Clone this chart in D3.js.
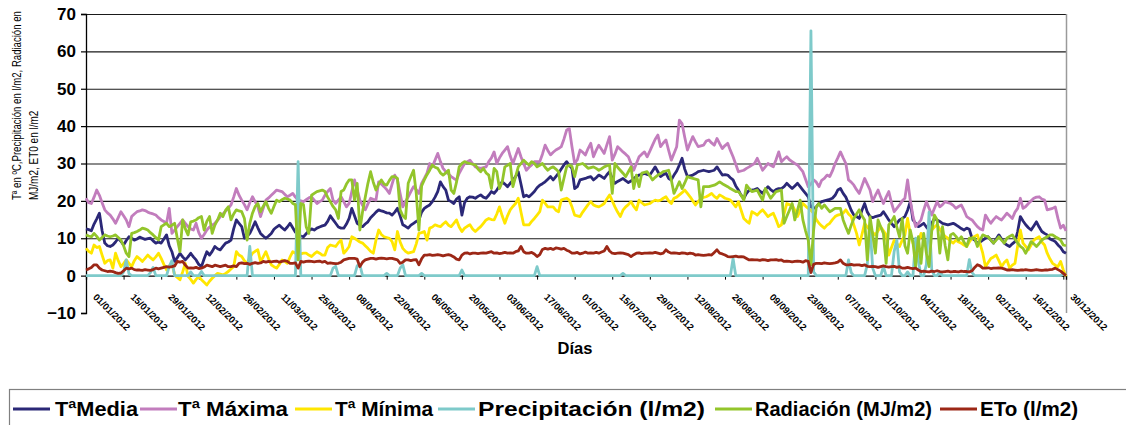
<!DOCTYPE html>
<html><head><meta charset="utf-8">
<script src="https://cdn.jsdelivr.net/npm/d3@7"></script>
<style>
body{margin:0;background:#fff;}
svg{display:block;font-family:"Liberation Sans",Arial,sans-serif;}
</style>
</head><body>
<svg id="chart" width="1126" height="425"></svg>
<script>
// ---------------- DATA ----------------
const startDate = "01/01/2012";
const endDate = "31/12/2012";

const tickLabels = ["01/01/2012","15/01/2012","29/01/2012","12/02/2012","26/02/2012","11/03/2012","25/03/2012","08/04/2012","22/04/2012","06/05/2012","20/05/2012","03/06/2012","17/06/2012","01/07/2012","15/07/2012","29/07/2012","12/08/2012","26/08/2012","09/09/2012","23/09/2012","07/10/2012","21/10/2012","04/11/2012","18/11/2012","02/12/2012","16/12/2012","30/12/2012"];

const yTicks = [-10, 0, 10, 20, 30, 40, 50, 60, 70];

const seriesNames = ["TªMedia", "Tª Máxima", "Tª Mínima", "Precipitación (l/m2)", "Radiación (MJ/m2)", "ETo (l/m2)"];

const tMedia = [
12.5,12.3,12.0,13.8,15.2,16.7,12.0,8.7,8.0,7.8,
8.2,9.0,10.0,9.2,8.2,9.4,10.4,10.0,9.5,9.8,
10.3,10.0,9.7,9.9,10.0,9.3,8.7,9.0,8.7,9.8,
10.9,8.0,6.4,3.8,4.8,6.0,5.0,4.2,5.0,6.0,
5.0,4.2,3.0,2.4,4.5,6.4,5.5,6.5,7.8,7.2,
6.9,7.8,8.7,9.0,9.5,12.5,14.9,14.0,13.1,10.0,
10.5,11.3,12.8,14.4,12.8,11.3,10.6,10.0,10.6,11.3,
12.4,13.0,13.5,12.8,12.2,13.0,14.0,12.8,11.6,11.0,
10.6,10.4,11.2,12.0,12.5,12.2,12.7,13.0,13.3,13.5,
14.5,16.0,15.0,14.0,13.0,12.7,12.7,13.8,15.3,18.0,
16.0,14.0,13.5,13.1,13.8,14.4,15.5,16.2,17.0,17.6,
17.3,17.1,16.8,16.7,16.2,17.0,18.0,16.0,13.6,13.2,
12.7,13.5,14.0,14.5,14.9,17.0,18.0,18.5,18.9,19.8,
21.0,22.5,25.1,23.8,22.9,20.2,19.8,19.3,20.5,21.1,
16.2,19.5,20.7,21.1,21.0,20.7,21.2,21.6,21.0,20.7,
21.5,22.5,22.0,22.9,24.0,25.1,24.5,23.8,24.7,25.5,
26.5,27.8,24.5,21.1,21.5,21.1,21.8,22.5,23.5,24.2,
24.6,25.1,25.8,26.5,25.6,26.5,27.4,28.5,29.6,30.5,
29.5,28.7,23.3,23.8,25.6,25.8,26.0,26.3,26.5,25.6,
26.2,26.9,26.5,26.0,27.0,27.8,26.0,24.7,25.2,25.6,
26.0,25.4,24.9,25.3,26.0,26.5,26.9,27.1,27.4,27.1,
26.9,28.0,29.1,27.8,26.5,27.0,27.4,26.0,25.6,26.9,
28.0,29.6,31.4,28.5,26.5,26.7,26.9,27.3,27.8,28.0,
28.2,28.0,27.8,28.0,28.2,29.1,28.0,26.9,27.0,26.9,
26.2,25.6,24.0,22.9,21.5,20.7,22.0,22.9,22.9,23.0,
23.3,22.6,22.0,23.0,23.8,23.0,22.5,23.0,23.3,23.3,
23.8,24.7,24.0,23.3,24.0,24.7,23.8,22.9,22.0,21.1,
18.4,18.0,18.4,19.3,19.8,20.0,20.2,20.4,20.7,21.5,
22.9,23.3,22.0,21.0,19.3,17.5,16.2,15.8,15.3,17.5,
19.3,17.0,15.8,15.5,15.8,16.0,16.2,17.1,16.0,14.9,
14.0,13.1,14.0,14.9,15.3,15.8,17.5,19.8,14.9,14.0,
13.1,13.5,14.0,13.0,12.2,14.0,15.3,14.9,14.5,14.0,
13.8,13.6,13.8,14.0,13.6,13.1,12.6,12.2,12.7,12.4,
10.0,9.5,8.7,9.0,9.5,10.0,10.4,9.5,8.7,9.8,
10.9,9.8,8.7,8.2,7.8,8.5,9.1,11.8,15.8,14.6,
13.6,12.8,12.2,13.3,14.4,13.0,11.8,11.3,10.9,9.8,
9.5,9.1,8.2,7.5,6.4,6.0];

const tMaxima = [
20.7,19.5,19.3,21.0,22.9,21.5,19.5,17.6,16.8,16.2,
15.2,14.0,15.5,17.1,16.0,14.9,13.1,15.8,16.5,17.1,
17.3,17.6,17.4,17.0,16.7,16.5,16.2,15.5,14.9,14.5,
14.0,18.0,11.3,12.2,13.1,14.0,14.9,14.0,13.1,12.5,
12.2,14.0,11.5,10.0,11.0,12.2,13.0,13.5,14.0,14.8,
15.8,16.5,17.3,18.0,18.9,21.0,23.3,21.5,20.2,19.0,
17.6,19.5,21.1,19.8,18.4,15.8,18.0,20.2,20.8,21.5,
22.2,22.9,22.7,22.5,21.8,21.1,21.5,22.0,21.0,20.2,
20.0,19.8,20.3,20.8,21.1,20.2,19.3,19.8,20.2,21.5,
22.5,23.3,20.2,19.3,20.2,21.1,19.8,18.4,19.3,22.5,
25.6,23.0,20.2,18.8,17.6,19.2,20.7,20.4,20.2,25.1,
24.5,23.8,23.0,22.0,24.5,26.9,25.6,22.0,18.4,19.8,
21.1,22.5,23.8,23.0,22.0,24.7,26.0,27.4,30.0,29.1,
30.9,32.7,30.5,28.7,27.8,27.2,26.5,26.0,25.6,27.4,
28.7,30.0,30.5,30.9,30.0,29.1,28.9,28.7,28.9,29.1,
30.5,31.5,33.1,30.0,31.5,32.7,33.6,34.5,32.0,30.0,
32.0,34.0,31.8,30.0,28.2,29.0,29.6,30.5,30.5,30.5,
32.5,34.9,33.5,32.3,33.0,33.6,34.0,34.5,36.5,38.9,
39.4,34.5,30.0,31.0,33.6,33.0,32.3,34.0,35.4,31.8,
33.5,34.9,33.8,32.7,35.0,37.2,30.9,32.5,34.5,33.8,
33.1,32.5,31.8,30.0,28.2,30.0,31.8,32.5,33.1,31.8,
33.3,34.9,36.5,37.6,34.5,35.5,36.3,33.5,30.9,32.7,
34.5,41.6,40.7,37.0,33.6,35.5,37.2,35.8,34.5,34.7,
34.9,36.0,36.3,35.5,34.9,36.7,35.3,34.0,34.8,35.4,
33.5,31.8,29.8,27.8,28.0,28.2,28.7,29.1,29.6,30.0,
31.4,29.8,28.2,29.1,30.0,29.5,29.1,31.0,33.1,30.5,
31.2,31.8,31.0,30.5,30.0,29.6,28.7,27.8,25.8,23.8,
24.5,25.6,25.0,23.8,25.5,26.0,26.9,26.5,28.0,30.0,
31.5,33.1,31.5,30.0,25.6,25.0,24.2,23.0,22.0,24.0,
26.0,24.5,22.9,19.8,21.5,22.9,21.0,19.3,21.0,22.5,
19.5,17.1,18.0,18.9,20.0,20.7,25.6,20.2,16.0,13.1,
14.0,14.9,17.5,19.8,18.0,16.2,18.0,19.8,18.4,19.0,
19.8,19.5,19.3,18.8,18.0,18.5,18.9,17.5,15.8,15.3,
14.9,14.0,13.1,12.5,12.2,16.2,15.0,14.0,15.0,15.8,
15.3,14.9,15.8,16.7,16.0,15.3,17.0,18.0,20.7,18.0,
18.5,19.3,20.0,20.7,21.0,21.1,20.5,20.2,17.6,17.8,
18.0,18.4,15.3,12.7,13.5,12.0];

const tMinima = [
7.3,6.5,6.0,8.2,7.5,7.8,5.5,3.3,4.0,4.2,
2.0,6.0,4.0,2.4,3.2,4.2,3.3,2.4,4.0,5.1,
4.5,3.8,4.6,5.5,4.8,4.2,5.0,6.0,4.6,3.0,
1.5,2.5,3.3,0.2,-0.5,-1.1,1.0,3.3,-0.2,-1.0,
-2.0,-1.0,-0.2,-1.1,-1.8,-2.5,-1.5,-0.7,0.0,0.6,
0.4,0.2,0.6,1.1,1.8,2.4,6.4,5.5,5.1,4.0,
3.3,4.8,6.0,6.5,6.9,3.8,5.0,6.4,4.5,2.9,
2.4,2.0,3.0,4.2,3.8,3.3,5.0,6.4,6.0,5.5,
5.8,6.0,6.0,5.5,5.1,5.8,6.4,6.0,5.5,5.5,
7.5,8.2,8.0,7.8,8.8,9.5,6.0,6.8,7.8,10.4,
10.0,9.5,9.0,8.7,8.0,7.3,6.5,6.0,9.5,12.2,
11.0,10.4,10.2,10.0,9.1,6.9,11.8,9.0,7.3,6.5,
6.0,6.2,6.4,8.5,11.3,11.5,11.8,9.5,12.7,13.0,
13.6,13.3,13.1,13.8,14.4,13.5,13.1,14.0,14.9,13.0,
11.8,12.7,13.2,13.6,12.5,11.8,12.5,13.1,14.0,14.9,
15.3,15.0,14.9,16.5,18.4,16.0,14.0,16.0,17.6,18.5,
19.3,20.7,17.0,13.6,13.6,13.6,14.5,15.3,16.2,17.1,
20.2,19.3,18.4,18.4,18.4,17.5,17.1,20.2,20.5,20.7,
20.2,18.4,16.2,16.0,15.8,17.0,18.0,19.0,19.8,18.9,
18.6,18.4,18.8,19.3,20.5,21.6,20.0,18.4,17.0,15.8,
17.5,18.4,19.0,19.8,18.5,17.6,20.2,19.5,18.9,19.1,
19.3,19.8,20.2,20.0,20.2,20.7,21.1,20.0,19.3,20.7,
21.0,21.6,22.2,22.9,22.0,21.1,20.0,18.9,19.8,20.7,
20.9,21.1,21.5,22.0,21.2,20.7,21.6,21.2,20.7,20.5,
20.2,19.3,18.4,19.8,17.5,15.3,14.6,14.0,17.1,16.7,
16.2,17.0,17.6,16.7,15.8,16.3,16.7,15.0,13.1,13.6,
16.5,19.3,19.0,18.9,17.5,15.8,17.5,19.3,18.6,18.0,
17.5,16.7,15.0,14.0,13.3,12.7,13.5,14.0,15.0,15.8,
16.2,16.4,16.7,17.6,16.5,15.8,13.5,11.3,8.2,11.0,
14.0,13.0,12.2,11.5,10.9,12.0,13.1,12.0,10.9,5.5,
7.5,9.5,8.5,7.8,9.5,10.9,15.3,11.0,8.7,6.9,
9.0,11.3,9.5,8.2,10.5,12.2,13.0,13.6,12.5,11.3,
10.5,10.0,9.2,8.7,9.5,9.0,8.7,8.2,7.8,9.0,
10.0,10.5,10.9,8.5,6.0,2.4,3.5,4.6,5.0,5.5,
4.0,2.4,3.5,4.2,2.0,2.8,3.3,8.0,12.2,8.7,
7.8,6.9,8.2,9.5,10.0,10.4,9.0,8.2,6.0,4.5,
3.3,2.8,2.4,3.8,1.5,-0.2];

const precipitacion = [
0,0,0,0,0,0,0,0,0,0,
0,0,0,0,1.0,4.2,0.5,0,0,0,
0,0,0,0,0.8,2.2,0,0,0,0,
0,2.5,4.0,0,0,0,0,0,0,1.0,
0,0,0,1.1,0,0,0,0,0,0,
0,0,0,0,0,0,0,0,0,0,
0,7.8,0,0,0,0,0,0,0,0,
0,0,0,0,0,0,0,0,0,30.5,
0,0,0,0,0,0,0,0,0,0,
0,0,2.0,2.5,0,0,0,0,0,0,
0,2.6,2.9,0,0,0,0,0,0,0,
0,0,0.6,0,0,0,0,2.0,2.9,0,
0,0,0,0,0,0.6,0,0,0,0,
0,0,0,0,0,0,0,0,0,0,
1.5,0,0,0,0,0,0,0,0,0,
0,0,0,0,0,0,0,0,0,0,
0,0,0,0,0,0,0,0,2.4,0,
0,0,0,0,0,0,0,0,0,0,
0,0,0,0,0,0,0,0,0,0,
0,0,0,0,0,0,0,0,0,0,
0.6,0,0,0,0,0,0,0,0,0,
0,0,0,0,0,0,0,0,0,0,
0,0,0,0,0,0,0,0,0,0,
0,0,0,0,0,0,0,0,0,0,
0,4.6,0,0,0,0,0,0,0,0,
0,0,0,0,0,0,0,0,0,0,
0,0,0,0,0,0,0,0,0,0,
65.5,1.0,0,0,0,0,0,0,0,0,
0,0,0,0,4.2,0.8,0,0,0,0,
0,3.0,13.5,2.0,0,0,0,2.5,0,0,
0,6.5,9.5,1.0,0,0,1.0,0,0,10.0,
4.0,0,0,3.0,17.0,1.5,0,0,1.0,0,
0,0,0,0,0,0,0,0,0,4.3,
0.8,0,0,0,0,0,0,0,0,0,
0,0,0,0,0,0,0,0,0,0,
0,0,0,0,0,0,0,0,0,0,
0,0,0,0,0.5,0];

const radiacion = [
10.9,10.6,10.4,11.3,10.5,9.5,10.2,10.9,10.6,10.4,
10.6,10.9,10.2,9.5,8.0,6.0,5.1,11.3,11.5,11.8,
12.2,12.7,12.5,12.2,11.5,10.9,10.2,9.5,13.1,13.6,
14.0,13.1,13.5,14.0,10.0,6.4,14.9,12.5,10.9,14.4,
14.6,14.9,15.5,15.8,12.2,14.5,15.8,11.3,13.5,14.9,
16.7,15.8,17.5,18.4,14.9,16.5,17.6,17.3,17.1,15.3,
9.5,14.0,16.7,18.5,19.3,17.1,18.5,19.8,18.0,16.7,
18.5,20.2,19.8,20.3,20.7,20.5,20.2,19.3,19.0,4.2,
19.3,19.0,13.1,11.3,21.5,22.0,22.5,22.7,22.9,22.5,
21.0,19.8,18.5,17.6,15.3,22.5,22.9,24.5,25.6,25.6,
20.2,24.7,12.2,17.1,21.0,24.7,27.8,25.0,22.9,24.5,
25.6,24.5,24.2,25.5,26.5,26.5,26.0,17.6,16.0,15.3,
24.7,26.5,28.2,22.0,12.2,24.0,25.6,27.0,28.2,29.6,
29.0,28.7,27.5,26.9,27.5,28.2,22.9,22.0,25.0,29.1,
30.0,30.5,30.2,30.0,29.8,29.6,28.5,27.8,28.7,27.5,
26.9,23.3,28.7,27.8,23.3,25.0,29.1,29.5,30.0,23.8,
26.5,29.1,30.0,30.9,30.2,29.6,30.5,30.0,29.1,29.5,
30.0,29.0,28.2,28.8,29.1,28.5,27.8,22.9,26.0,29.1,
29.6,29.2,26.5,29.6,29.8,30.0,29.4,28.7,28.9,29.1,
28.7,28.2,28.6,29.1,29.4,29.6,22.0,30.0,29.0,28.2,
27.4,26.5,27.8,29.1,23.3,26.9,23.8,27.4,27.6,27.8,
26.7,25.6,26.3,26.9,27.3,27.8,28.0,28.2,25.6,22.0,
23.5,25.1,23.3,24.8,26.5,26.2,26.0,25.8,25.6,18.4,
23.8,23.8,23.8,24.0,24.2,24.6,25.1,24.6,24.2,23.8,
23.3,22.9,22.5,22.5,21.5,20.2,24.2,23.3,22.5,22.7,
22.9,21.5,20.2,23.3,22.0,20.7,21.6,22.5,22.7,22.9,
14.0,15.8,17.5,19.3,14.9,17.5,20.2,14.9,12.0,9.5,
2.9,12.2,18.4,19.3,18.0,18.9,18.0,17.1,17.5,18.0,
18.0,18.0,14.9,13.0,11.3,13.5,15.3,16.5,17.6,16.0,
14.9,4.2,15.8,11.0,6.0,14.9,13.0,11.3,3.3,13.6,
14.5,15.8,13.0,10.4,15.3,8.0,6.0,12.2,9.0,2.4,
10.4,3.3,11.3,6.0,2.4,12.0,16.2,14.9,6.0,13.1,
8.0,4.2,10.9,11.3,10.5,9.5,10.4,9.0,7.8,10.0,
10.0,10.0,7.8,9.5,10.9,10.6,10.4,9.5,8.7,9.5,
10.4,9.5,8.7,10.0,10.5,10.9,9.8,8.7,7.8,7.3,
6.0,7.5,9.1,8.5,7.8,8.6,9.5,10.0,10.4,10.9,
10.9,10.4,10.0,9.5,8.2,8.0];

const eto = [
1.5,1.8,2.2,2.9,2.9,2.0,1.5,1.3,1.1,1.2,
1.1,0.8,0.6,0.7,1.3,2.0,1.8,2.0,1.6,1.5,
1.5,1.4,1.6,1.5,1.4,1.6,2.0,1.8,2.0,2.2,
2.4,2.3,2.4,2.6,3.8,3.6,3.8,2.8,2.0,2.1,
2.0,2.2,1.9,2.0,2.3,2.8,2.6,2.4,2.8,2.6,
2.4,2.6,2.8,2.4,2.4,2.6,2.4,3.3,3.4,3.2,
3.3,3.0,3.3,3.5,3.3,3.4,3.8,3.6,3.8,3.7,
3.8,3.9,3.6,3.8,4.0,3.8,3.3,3.3,3.4,2.0,
3.8,3.6,3.8,3.9,3.8,3.7,3.8,3.9,3.6,3.8,
3.3,3.4,3.3,3.2,3.3,3.6,4.2,4.4,4.6,4.6,
4.6,4.4,2.4,3.6,4.2,4.4,4.6,4.6,4.4,4.6,
4.7,4.6,4.5,4.6,4.6,4.4,4.2,3.3,3.6,4.2,
4.2,4.0,4.2,4.3,2.9,4.5,5.5,5.5,5.6,5.4,
5.5,5.6,5.5,5.3,5.5,5.6,5.4,5.0,4.4,4.2,
5.5,6.0,6.1,5.8,6.0,6.0,5.9,6.0,6.1,6.0,
6.2,6.4,6.0,6.1,5.9,6.0,6.2,6.0,6.1,6.0,
6.4,6.6,7.8,6.4,6.0,6.0,6.2,5.8,5.1,5.6,
7.0,7.3,7.1,7.3,7.0,7.4,7.3,7.1,7.3,6.8,
6.5,6.0,6.0,6.2,5.8,6.0,6.3,6.0,6.1,6.0,
6.2,6.0,6.3,6.6,7.8,6.6,6.0,5.9,6.0,6.1,
6.0,5.8,5.6,5.1,5.6,6.0,6.1,5.9,6.0,6.0,
6.1,6.0,6.2,6.0,5.8,6.0,6.9,6.3,6.0,6.1,
6.0,5.9,6.1,6.0,5.8,6.0,5.9,5.5,5.6,5.5,
5.4,5.5,5.6,5.5,6.2,6.9,6.0,5.8,5.5,5.1,
5.0,5.1,5.2,5.0,5.1,5.0,4.6,4.2,4.3,4.2,
4.2,4.1,4.3,4.2,4.0,4.2,4.2,4.3,4.1,4.2,
3.8,3.9,3.8,3.7,3.8,3.9,3.8,3.6,4.0,3.8,
0.8,3.0,3.3,3.3,3.2,3.4,3.3,3.2,3.3,3.4,
3.6,4.2,3.3,2.9,2.9,3.0,2.8,2.9,2.9,2.7,
2.9,2.5,2.4,2.5,2.4,2.2,2.4,2.6,2.4,2.3,
2.4,2.5,2.2,2.4,2.0,2.0,2.2,2.0,1.9,2.0,
1.5,1.1,1.2,1.1,1.0,1.2,1.1,1.3,1.1,1.0,
1.1,1.2,1.0,1.1,1.1,1.0,1.2,1.1,1.1,1.0,
1.3,2.2,2.9,2.6,2.0,2.0,2.1,1.9,2.0,2.0,
2.1,2.0,1.8,1.5,1.5,1.6,1.5,1.4,1.5,1.5,
1.6,1.5,1.4,1.5,1.6,1.5,1.4,1.5,1.5,1.6,
1.7,2.0,1.6,1.2,0.6,0.0];

// ---------------- CHART ----------------
const parseDate = d3.timeParse("%d/%m/%Y");
const categories = d3.timeDay.range(parseDate(startDate), d3.timeDay.offset(parseDate(endDate), 1));
const seriesValues = [tMedia, tMaxima, tMinima, precipitacion, radiacion, eto];
const seriesColors = ["#2b2877", "#c27dbd", "#ffe600", "#7ecaca", "#93c52b", "#9c2716"];

const svg = d3.select("#chart");
const pL = 86, pR = 1066, pT = 14, pB = 313;

const x = d3.scaleTime()
  .domain([categories[0], categories[categories.length - 1]])
  .range([pL, pR]);
const y = d3.scaleLinear().domain([-10, 70]).range([pB, pT]);

// gridlines
svg.append("g")
  .attr("transform", `translate(${pL},0)`)
  .call(d3.axisLeft(y).tickValues(yTicks.filter(v => v > 0)).tickSize(-(pR - pL)).tickFormat(""))
  .call(g => g.select(".domain").remove())
  .call(g => g.selectAll("line").attr("stroke", "#1a1a1a").attr("stroke-width", 1.1));

// right border
svg.append("line").attr("x1", pR + 0.5).attr("x2", pR + 0.5).attr("y1", pT).attr("y2", pB)
  .attr("stroke", "#9a9a9a").attr("stroke-width", 1.5);

// y axis
svg.append("g")
  .attr("transform", `translate(${pL},0)`)
  .call(d3.axisLeft(y).tickValues(yTicks).tickSize(5).tickPadding(5))
  .call(g => g.select(".domain").attr("stroke", "#000").attr("stroke-width", 1.3))
  .call(g => g.selectAll("line").attr("stroke", "#000").attr("stroke-width", 1.2))
  .call(g => g.selectAll("text").attr("font-size", 17).attr("font-weight", "bold")
    .attr("font-family", "Liberation Sans, Arial, sans-serif").attr("fill", "#000"));

// x axis at value 0
const tickDates = tickLabels.map(parseDate);
svg.append("g")
  .attr("transform", `translate(0,${y(0)})`)
  .call(d3.axisBottom(x).tickValues(tickDates).tickSize(4)
    .tickFormat((d, i) => tickLabels[i]))
  .call(g => g.select(".domain").attr("stroke", "#000").attr("stroke-width", 1.3))
  .call(g => g.selectAll("line").attr("stroke", "#000"))
  .call(g => g.selectAll("text")
    .attr("font-size", 9.5).attr("font-weight", "bold")
    .attr("font-family", "Liberation Sans, Arial, sans-serif").attr("fill", "#000")
    .attr("text-anchor", "start").attr("x", 0).attr("y", 0).attr("dy", 0)
    .attr("transform", "translate(6,22) rotate(45)"));

// series lines
const line = d3.line()
  .x((d, i) => x(categories[i]))
  .y(d => y(d));

seriesValues.forEach((vals, k) => {
  svg.append("path")
    .datum(vals)
    .attr("fill", "none")
    .attr("stroke", seriesColors[k])
    .attr("stroke-width", 2.8)
    .attr("stroke-linejoin", "round")
    .attr("d", line);
});

// axis titles
svg.append("text")
  .attr("x", 575).attr("y", 354)
  .attr("text-anchor", "middle")
  .attr("font-size", 16.5).attr("font-weight", "bold")
  .text("Días");

const yTitle = svg.append("g");
yTitle.append("text")
  .attr("transform", "translate(21,200) rotate(-90) scale(1,1.3)")
  .attr("font-size", 9.6)
  .text("Tª en ºC,Precipitación en l/m2, Radiación en");
yTitle.append("text")
  .attr("transform", "translate(38,200) rotate(-90) scale(1,1.3)")
  .attr("font-size", 10)
  .text("MJ/m2, ET0 en l/m2");

// legend
const legend = svg.append("g");
legend.append("rect")
  .attr("x", 9.5).attr("y", 389.5).attr("width", 1130).attr("height", 50)
  .attr("fill", "#fff").attr("stroke", "#808080").attr("stroke-width", 1.2);

const legendLineX = [13, 140, 295, 438, 715, 940];
const legendTextX = [55, 178, 335, 478, 755, 980];
const legendTextW = [83, 110, 98, 227, 177, 98];
seriesNames.forEach((name, k) => {
  legend.append("line")
    .attr("x1", legendLineX[k]).attr("x2", legendLineX[k] + 37)
    .attr("y1", 409).attr("y2", 409)
    .attr("stroke", seriesColors[k]).attr("stroke-width", 3);
  legend.append("text")
    .attr("x", legendTextX[k]).attr("y", 416)
    .attr("font-size", 20).attr("font-weight", "bold")
    .attr("textLength", legendTextW[k]).attr("lengthAdjust", "spacingAndGlyphs")
    .text(name);
});
</script>
</body></html>
